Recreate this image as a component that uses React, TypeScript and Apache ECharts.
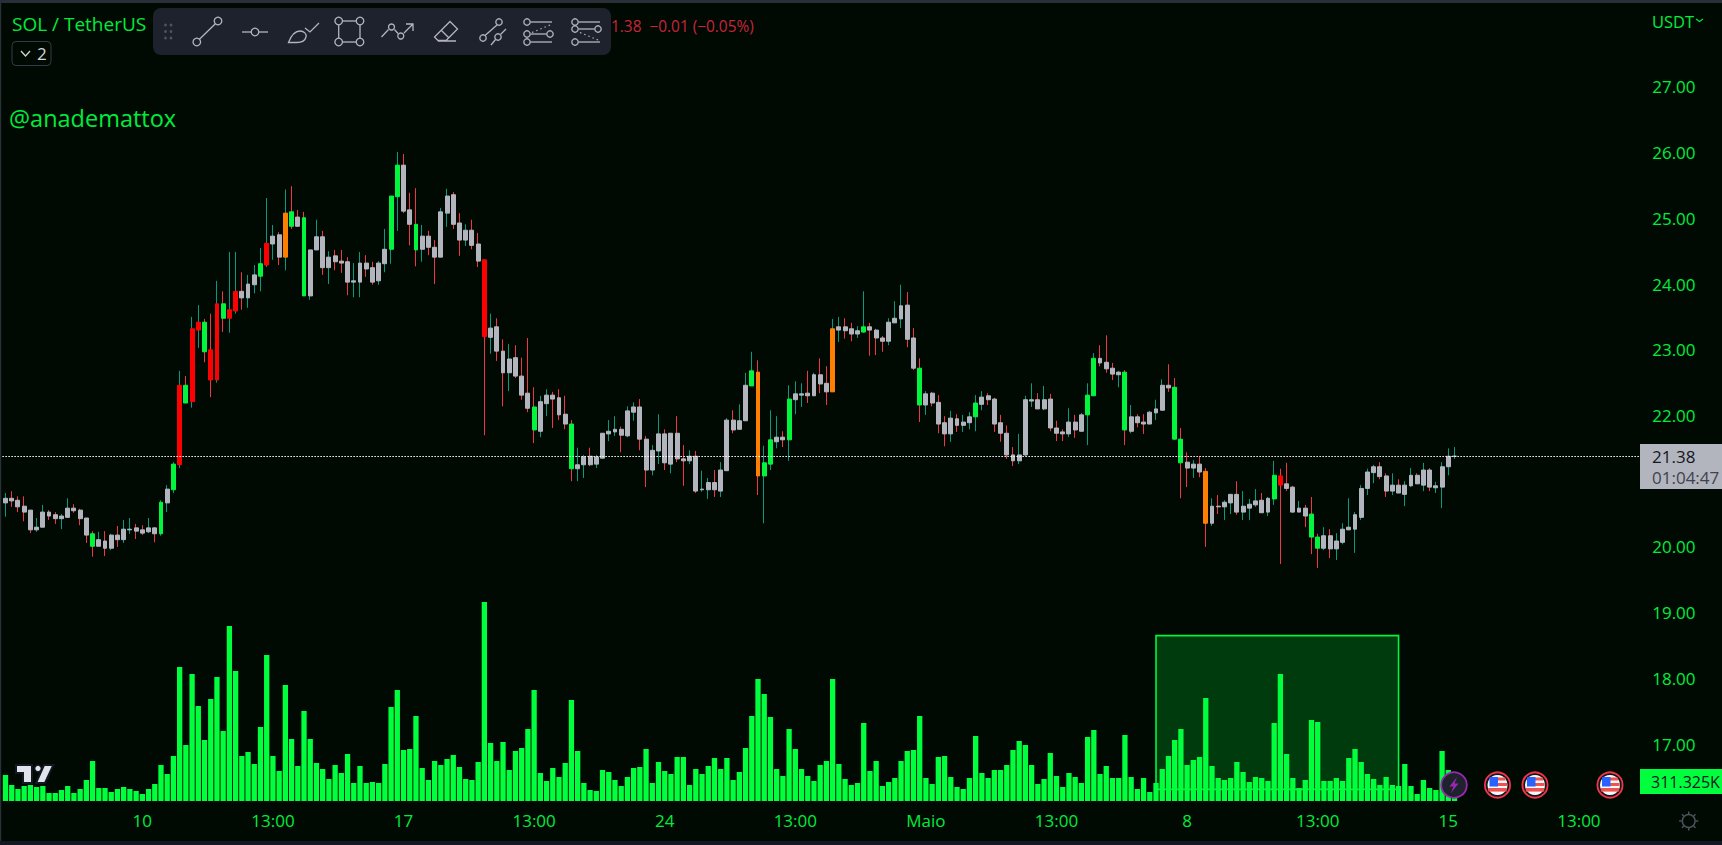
import React, { useEffect, useRef } from "react";
import * as echarts from "echarts";

const opens = [
20.67,20.74,20.71,20.62,20.56,20.26,20.30,20.53,20.49,20.43,
20.45,20.59,20.56,20.44,20.20,20.01,20.09,19.98,20.18,20.11,
20.26,20.29,20.26,20.23,20.29,20.20,20.67,20.87,21.25,22.46,
22.21,23.30,23.42,23.00,22.54,23.70,23.48,23.59,23.89,23.79,
23.99,24.12,24.29,24.61,24.75,24.41,25.10,25.02,25.01,23.82,
24.52,24.72,24.25,24.43,24.35,24.34,24.03,24.03,24.32,24.25,
24.05,24.31,24.53,25.33,25.81,25.13,24.91,24.53,24.73,24.56,
24.41,25.08,25.36,24.93,24.67,24.82,24.61,24.37,23.19,23.35,
22.98,22.65,22.88,22.60,22.34,22.13,21.76,22.18,22.31,22.27,
22.02,21.87,21.19,21.25,21.38,21.26,21.35,21.72,21.75,21.79,
21.69,22.05,22.13,21.64,21.17,21.46,21.72,21.26,21.73,21.34,
21.31,21.38,20.87,20.87,20.98,20.85,21.16,21.93,21.79,21.92,
22.45,22.66,21.08,21.26,21.60,21.67,21.63,22.24,22.31,22.34,
22.30,22.62,22.49,22.36,23.30,23.35,23.32,23.24,23.27,23.35,
23.30,23.18,23.13,23.41,23.47,23.68,23.18,22.72,22.16,22.34,
22.20,21.89,21.72,21.95,21.85,21.89,21.98,22.17,22.30,22.25,
21.89,21.73,21.40,21.31,21.40,22.22,22.24,22.10,22.25,21.81,
21.75,21.72,21.90,21.76,22.01,22.30,22.87,22.81,22.72,22.62,
22.66,21.76,21.98,21.90,21.87,22.04,22.08,22.46,22.43,21.64,
21.29,21.20,21.26,21.15,20.36,20.62,20.61,20.67,20.80,20.53,
20.59,20.64,20.71,20.53,20.73,21.08,20.96,20.91,20.53,20.59,
20.50,20.15,19.98,20.17,19.97,20.07,20.26,20.27,20.45,20.89,
21.13,21.22,21.08,20.85,20.94,20.80,20.93,21.09,20.94,21.17,
20.90,20.91,21.22,21.38,
];

const closes = [
20.74,20.70,20.61,20.53,20.26,20.30,20.53,20.47,20.43,20.47,
20.59,20.55,20.43,20.18,20.01,20.11,19.98,20.18,20.11,20.27,
20.27,20.24,20.21,20.29,20.20,20.68,20.88,21.26,22.46,22.19,
23.32,23.42,22.97,22.54,23.70,23.48,23.61,23.89,23.79,24.00,
24.14,24.31,24.62,24.73,24.41,25.08,24.88,24.88,23.82,24.52,
24.72,24.25,24.41,24.34,24.32,24.03,24.05,24.32,24.23,24.03,
24.32,24.53,25.34,25.81,25.11,24.91,24.52,24.73,24.56,24.41,
25.10,25.34,24.91,24.67,24.82,24.59,24.35,23.20,23.33,22.98,
22.65,22.86,22.60,22.31,22.11,21.78,22.21,22.31,22.25,22.01,
21.87,21.19,21.25,21.37,21.25,21.37,21.73,21.76,21.79,21.70,
22.07,22.13,21.64,21.17,21.47,21.72,21.28,21.73,21.34,21.31,
21.38,20.85,20.88,20.98,20.87,21.17,21.93,21.78,21.92,22.46,
22.68,21.08,21.28,21.63,21.67,21.63,22.25,22.33,22.33,22.30,
22.62,22.48,22.36,23.32,23.35,23.29,23.24,23.29,23.35,23.30,
23.18,23.13,23.42,23.48,23.67,23.16,22.72,22.16,22.33,22.19,
21.87,21.72,21.96,21.85,21.90,21.98,22.19,22.28,22.24,21.87,
21.73,21.40,21.31,21.40,22.24,22.24,22.10,22.24,21.81,21.73,
21.72,21.90,21.78,22.01,22.31,22.87,22.80,22.71,22.63,22.66,
21.78,21.98,21.89,21.87,22.05,22.10,22.46,22.42,21.64,21.28,
21.20,21.26,21.14,20.36,20.62,20.61,20.68,20.80,20.53,20.62,
20.65,20.70,20.52,20.74,21.09,20.94,20.89,20.53,20.59,20.47,
20.15,19.98,20.17,19.97,20.09,20.27,20.30,20.49,20.89,21.14,
21.22,21.07,20.85,20.94,20.82,20.94,21.09,20.96,21.17,20.91,
20.93,21.22,21.38,21.38,
];

const lows = [
20.46,20.61,20.53,20.39,20.21,20.23,20.30,20.41,20.35,20.27,
20.44,20.52,20.33,20.06,19.85,20.01,19.86,19.95,20.00,20.06,
20.20,20.12,20.18,20.21,20.07,20.17,20.53,20.82,21.20,22.19,
22.12,23.03,22.81,22.28,22.50,23.27,23.26,23.55,23.61,23.64,
23.86,23.89,24.26,24.37,24.29,24.21,24.84,24.87,23.82,23.76,
24.52,24.14,24.00,24.21,24.17,23.83,23.80,23.80,24.11,23.99,
23.99,24.18,24.31,24.81,25.08,24.59,24.27,24.34,24.44,24.00,
24.41,24.87,24.84,24.43,24.58,24.53,24.26,21.70,22.94,22.83,
22.14,22.37,22.57,22.24,22.05,21.58,21.67,21.99,21.81,21.93,
21.79,21.00,21.00,21.05,21.23,21.20,21.35,21.61,21.69,21.44,
21.67,21.92,21.47,20.91,21.09,21.26,21.17,21.12,21.29,20.93,
21.26,20.82,20.84,20.73,20.76,20.76,21.16,21.73,21.79,21.92,
22.45,20.79,20.36,21.17,21.50,21.52,21.31,22.02,22.13,22.19,
22.30,22.34,22.16,22.36,23.12,23.17,23.13,23.18,23.26,22.91,
22.92,22.97,23.07,23.41,23.33,23.04,22.69,21.90,22.01,22.14,
21.73,21.53,21.60,21.75,21.75,21.79,21.76,22.08,22.16,21.75,
21.60,21.34,21.23,21.26,21.38,22.13,22.10,22.08,21.76,21.61,
21.61,21.67,21.66,21.76,21.55,22.30,22.75,22.65,22.54,22.43,
21.55,21.73,21.82,21.72,21.87,21.93,22.08,22.36,21.63,20.74,
20.91,21.05,21.06,20.00,20.32,20.50,20.41,20.50,20.49,20.41,
20.41,20.61,20.52,20.47,20.64,19.74,20.85,20.52,20.53,20.30,
19.89,19.68,19.95,19.83,19.80,20.04,20.26,19.91,20.41,20.79,
20.97,21.03,20.76,20.79,20.82,20.62,20.91,20.96,20.85,20.85,
20.82,20.59,21.09,21.34,
];

const highs = [
20.82,20.85,20.77,20.77,20.56,20.44,20.64,20.56,20.53,20.50,
20.74,20.65,20.58,20.44,20.24,20.23,20.24,20.20,20.32,20.41,
20.44,20.35,20.33,20.44,20.30,20.71,20.94,21.29,22.68,22.60,
23.50,23.68,23.47,23.55,24.05,23.89,24.49,24.49,24.18,24.14,
24.29,24.55,25.31,24.90,24.79,25.44,25.49,25.13,25.10,24.52,
24.98,24.81,24.50,24.52,24.52,24.41,24.32,24.49,24.44,24.34,
24.35,24.84,25.34,26.01,25.98,25.39,25.46,24.90,24.81,24.67,
25.16,25.45,25.40,25.08,24.91,24.98,24.78,24.37,23.55,23.48,
23.16,23.09,23.07,22.88,23.18,22.43,22.30,22.40,22.36,22.40,
22.30,21.93,21.51,21.40,21.51,21.40,21.73,21.93,21.99,21.83,
22.14,22.20,22.25,21.69,21.55,22.02,21.79,21.73,21.99,21.55,
21.47,21.46,21.16,21.05,21.17,21.29,21.96,22.08,22.17,22.65,
22.97,22.84,21.54,22.08,21.99,21.76,22.46,22.52,22.49,22.68,
22.65,22.87,22.75,23.47,23.50,23.48,23.41,23.36,23.89,23.41,
23.32,23.21,23.48,23.74,23.99,23.88,23.33,22.87,22.37,22.36,
22.31,21.99,22.07,22.02,22.01,22.05,22.31,22.37,22.34,22.27,
22.01,21.85,21.52,21.72,22.30,22.49,22.34,22.45,22.33,21.92,
21.79,22.11,22.01,22.04,22.49,22.95,23.07,23.22,22.80,22.68,
22.69,22.16,22.02,22.02,22.07,22.24,22.55,22.78,22.57,21.81,
21.44,21.32,21.38,21.20,20.74,20.79,20.71,20.80,21.00,20.85,
20.73,20.88,20.82,20.76,21.31,21.19,21.28,20.93,20.70,20.64,
20.76,20.20,20.30,20.27,20.21,20.36,20.74,20.53,20.94,21.19,
21.25,21.29,21.12,21.12,21.03,21.00,21.20,21.12,21.28,21.20,
20.99,21.29,21.50,21.52,
];

// volume in thousands of SOL
const volumes = [
390,240,180,225,240,210,225,120,120,165,
225,120,180,315,600,195,195,135,180,210,
180,150,105,180,255,540,405,675,2010,840,
1905,1425,915,1530,1860,1050,2625,1950,675,735,
555,1110,2190,675,450,1740,930,525,1350,930,
570,480,330,540,420,705,270,525,270,285,
270,555,1410,1665,765,780,1275,495,315,600,
540,630,690,510,330,315,585,2985,870,600,
885,465,750,795,1080,1665,420,300,495,360,
570,1515,750,270,165,150,465,435,315,225,
360,495,510,780,270,585,450,405,660,660,
240,480,405,525,645,480,645,315,435,795,
1275,1830,1605,1260,480,375,1080,780,480,375,
300,540,600,1830,555,330,240,270,1170,450,
600,225,285,345,600,750,765,1275,345,255,
660,675,360,210,180,345,975,420,345,465,
465,540,765,900,840,540,255,330,720,375,
210,420,360,270,960,1065,405,525,345,345,
990,360,180,345,135,270,480,675,915,1080,
540,615,660,1545,525,345,315,345,585,435,
285,360,345,300,1170,1905,705,345,195,315,
1215,1185,300,300,345,300,645,780,585,405,
330,240,360,240,225,555,225,105,315,195,
165,750,465,311.325,
];

const greenBodies = [14,25,27,29,32,35,41,46,48,62,63,66,85,91,120,122,123,126,138,147,156,174,175,180,188,189,204,210,211];
const redBodies = [28,30,31,33,34,36,37,42,77,205];
const orangeBodies = [45,121,133,193];

const priceTicks = [17,18,19,20,22,23,24,25,26,27];
const timeTickIndexes = [22,43,64,85,106,127,148,169,190,211,232,253];
const timeTickLabels = ["10","13:00","17","13:00","24","13:00","Maio","13:00","8","13:00","15","13:00"];
const lastPrice = 21.38;
const SLOTS = 264;

const BG = "#010a02";
const GREEN = "#00f53c";
const BAR = "#00ff3c";
const TEXT_GREEN = "#00ec3c";
const GRAY = "#b2b5be";
const WICK_UP = "#089981";
const WICK_DOWN = "#f23645";
const ICON = "#b2b5be";
const FONT = '"Open Sans"';

function bodyColor(i: number) {
  if (greenBodies.includes(i)) return "#00f53c";
  if (redBodies.includes(i)) return "#ff0000";
  if (orangeBodies.includes(i)) return "#ff8000";
  return GRAY;
}

echarts.graphic.registerShape("tvBrush", echarts.graphic.extendPath("M288.5 42.5 C291 36 294 31 300 31 C304 31 307 34 306 37 C305 41 301 42.5 297 42.5 Z M305 28 L310 32 L319 23", {}));
echarts.graphic.registerShape("tvEraser", echarts.graphic.extendPath("M450 21.5 L457.5 29 L446 40.5 L438 40.5 L434.5 37 Z M441 30 L449 38 M438 41 L456 41", {}));
echarts.graphic.registerShape("tvArrow", echarts.graphic.extendPath("M381.5 37 L388.5 29.5 M394.5 29.5 L398 33.5 M404 33 L413 24 M406 24 L413 24 L413 31", {}));

function iconCircle(x: number, y: number, r = 3.8, fill = "none", stroke = ICON) {
  return { type: "circle", shape: { cx: x, cy: y, r }, style: { fill, stroke, lineWidth: 1.3 } };
}
function iconLine(x1: number, y1: number, x2: number, y2: number, stroke = ICON, lineWidth = 1.3, lineDash?: number[]) {
  return { type: "line", shape: { x1, y1, x2, y2 }, style: { stroke, lineWidth, lineDash } };
}
function label(text: string, x: number, y: number, fill: string, size: number, align = "left") {
  return { type: "text", x, y, style: { text, fill, font: `${size}px ${FONT}`, textAlign: align, textVerticalAlign: "middle" } };
}
function flag(cx: number, cy: number) {
  return [
    { type: "circle", shape: { cx, cy, r: 12.6 }, style: { fill: "#131722", stroke: "#f23645", lineWidth: 1.8 } },
    { type: "circle", shape: { cx, cy, r: 10 }, style: { fill: "#f7f8fa" } },
    { type: "rect", shape: { x: cx - 6, y: cy - 7.5, width: 14, height: 3 }, style: { fill: "#ef5350" } },
    { type: "rect", shape: { x: cx - 0, y: cy - 2, width: 9.6, height: 3 }, style: { fill: "#ef5350" } },
    { type: "rect", shape: { x: cx - 9.2, y: cy + 3, width: 18.4, height: 3.6 }, style: { fill: "#ef5350" } },
    { type: "rect", shape: { x: cx - 8, y: cy - 8, width: 8.5, height: 9.5 }, style: { fill: "#2962ff" } },
  ];
}

const gearRays = [0, 45, 90, 135, 180, 225, 270, 315].map((deg) => {
  const a = (deg * Math.PI) / 180;
  return iconLine(1688.7 + 7 * Math.cos(a), 821 + 7 * Math.sin(a), 1688.7 + 9.6 * Math.cos(a), 821 + 9.6 * Math.sin(a), "#50535e", 1.4);
});

const chrome: any[] = [
  { type: "rect", shape: { x: 0, y: 0, width: 1722, height: 3 }, style: { fill: "#2a2e39" } },
  { type: "rect", shape: { x: 0, y: 0, width: 1.2, height: 845 }, style: { fill: "#2a2e39" } },
  { type: "rect", shape: { x: 0, y: 841, width: 1722, height: 4 }, style: { fill: "#141823" } },
  label("SOL / TetherUS", 12, 24, TEXT_GREEN, 19),
  { type: "rect", shape: { x: 12, y: 41.5, width: 39, height: 24, r: 4 }, style: { fill: BG, stroke: "#363a45", lineWidth: 1 } },
  { type: "polyline", shape: { points: [[21, 51], [25.5, 56], [30, 51]] }, style: { fill: "none", stroke: "#d1d4dc", lineWidth: 1.3 } },
  label("2", 37, 53, "#d1d4dc", 17),
  label("@anademattox", 9, 118, TEXT_GREEN, 23.5),
  { type: "rect", shape: { x: 153, y: 8, width: 458, height: 47, r: 8 }, style: { fill: "#1e222d" } },
  ...[25, 31.5, 38].flatMap((y) => [165.5, 171].map((x) => ({ type: "circle", shape: { cx: x, cy: y, r: 1.4 }, style: { fill: "#50535e" } }))),
  iconCircle(196.8, 42), iconCircle(218, 21), iconLine(199.4, 39.2, 215.4, 23.8),
  iconLine(242, 32, 251, 32), iconLine(259, 32, 268, 32), iconCircle(255, 32),
  { type: "tvBrush", style: { fill: "none", stroke: ICON, lineWidth: 1.3 } },
  iconCircle(338.7, 21), iconCircle(360, 21), iconCircle(338.7, 42), iconCircle(360, 42),
  iconLine(342.5, 21, 356.2, 21), iconLine(342.5, 42, 356.2, 42), iconLine(338.7, 24.8, 338.7, 38.2), iconLine(360, 24.8, 360, 38.2),
  { type: "tvArrow", style: { fill: "none", stroke: ICON, lineWidth: 1.3 } },
  iconCircle(391.5, 27, 3), iconCircle(400.8, 36, 3),
  { type: "tvEraser", style: { fill: "none", stroke: ICON, lineWidth: 1.3 } },
  iconCircle(499, 22, 3.2), iconCircle(483, 38, 3.2), iconLine(497, 25, 485, 35.5),
  iconCircle(498, 37, 3.2), iconLine(506, 29, 500.5, 34.5), iconLine(495.5, 39.5, 491, 45),
  iconCircle(527, 22, 3.2), iconLine(530.5, 22, 552, 22),
  iconCircle(527, 34, 3.2), iconLine(530.5, 34, 546.5, 34), iconCircle(550, 34, 3.2),
  iconCircle(527, 42, 3.2), iconLine(530.5, 42, 552, 42),
  iconLine(532, 32.5, 550, 25, ICON, 1.2, [1.5, 3]),
  iconCircle(575, 22, 3.2), iconLine(578.5, 22, 600, 22),
  iconCircle(598, 29, 3.2), iconLine(578.5, 29, 594.5, 29),
  iconCircle(575, 42, 3.2), iconLine(578.5, 42, 600, 42), iconCircle(575, 29, 3.2),
  iconLine(580, 32.5, 598, 40, ICON, 1.2, [1.5, 3]),
  label("1.38  \u22120.01 (\u22120.05%)", 611, 26, "#c8243a", 15.4),
  label("USDT", 1652, 21, TEXT_GREEN, 16.5),
  { type: "polyline", shape: { points: [[1696, 19], [1699.5, 21.5], [1703, 19]] }, style: { fill: "none", stroke: TEXT_GREEN, lineWidth: 1.1 } },
  { type: "polygon", shape: { points: [[16, 765], [32, 765], [32, 783], [23, 783], [23, 773], [16, 773]] }, style: { fill: "#e0e3eb", stroke: "#131722", lineWidth: 2 } },
  { type: "circle", shape: { cx: 38, cy: 768.5, r: 3.4 }, style: { fill: "#e0e3eb", stroke: "#131722", lineWidth: 1.5 } },
  { type: "polygon", shape: { points: [[44, 765], [53.4, 765], [45, 783], [36, 783]] }, style: { fill: "#e0e3eb", stroke: "#131722", lineWidth: 2 } },
  { type: "circle", shape: { cx: 1454, cy: 785, r: 12.8 }, style: { fill: "#1e222d", stroke: "#9c27b0", lineWidth: 1.8 } },
  { type: "polygon", shape: { points: [[1457, 777], [1449.5, 786.5], [1453.5, 786.5], [1451, 793], [1458.5, 783.5], [1454.5, 783.5]] }, style: { fill: "#9c27b0" } },
  ...flag(1497.5, 785), ...flag(1535, 785), ...flag(1610, 785),
  { type: "rect", shape: { x: 1640, y: 444, width: 82, height: 45 }, style: { fill: GRAY } },
  label("21.38", 1652, 456.5, "#131722", 17),
  label("01:04:47", 1652, 477, "#3f434e", 17),
  { type: "rect", shape: { x: 1640, y: 769, width: 82, height: 25 }, style: { fill: BAR } },
  label("311.325K", 1651, 781.5, "#131722", 16),
  { type: "circle", shape: { cx: 1688.7, cy: 821, r: 6.4 }, style: { fill: "none", stroke: "#50535e", lineWidth: 1.4 } },
  ...gearRays,
];

export default function App() {
  const ref = useRef<HTMLDivElement>(null);
  useEffect(() => {
    document.body.style.margin = "0";
    document.body.style.background = BG;
    const chart = echarts.init(ref.current!, undefined, { renderer: "svg" });
    const categories = Array.from({ length: SLOTS }, (_, i) => String(i));
    const wickData = opens.map((o, i) => ({
      value: [o, closes[i], lows[i], highs[i]],
    }));
    const bodyData = opens.map((o, i) => {
      const c = bodyColor(i);
      return {
        value: [o, closes[i], Math.min(o, closes[i]), Math.max(o, closes[i])],
        itemStyle: { color: c, color0: c, borderColor: c, borderColor0: c },
      };
    });
    chart.setOption({
      animation: false,
      backgroundColor: BG,
      grid: { left: 2.4, top: 3, width: 1641.8, height: 798, containLabel: false },
      xAxis: {
        type: "category",
        data: categories,
        boundaryGap: true,
        axisLine: { show: false },
        axisTick: { show: false },
        splitLine: { show: false },
        axisLabel: {
          color: TEXT_GREEN,
          fontFamily: FONT,
          fontSize: 17,
          margin: 11,
          hideOverlap: false,
          interval: (i: number) => timeTickIndexes.includes(i),
          formatter: (_v: string, i: number) => timeTickLabels[timeTickIndexes.indexOf(i)] ?? "",
        },
      },
      yAxis: [
        {
          type: "value",
          position: "right",
          min: 16.133,
          max: 28.278,
          scale: true,
          splitLine: { show: false },
          axisLine: { show: false },
          axisTick: { show: false },
          axisLabel: {
            color: TEXT_GREEN,
            fontFamily: FONT,
            fontSize: 17,
            margin: 8,
            customValues: priceTicks,
            formatter: (v: number) => v.toFixed(2),
          },
        },
        { type: "value", show: false, min: 0, max: 11970, splitLine: { show: false } },
      ],
      series: [
        {
          type: "bar",
          name: "Volume",
          yAxisIndex: 1,
          data: volumes,
          barWidth: 5.3,
          itemStyle: { color: BAR },
          z: 2,
        },
        {
          type: "candlestick",
          name: "Wicks",
          data: wickData,
          barWidth: 1,
          itemStyle: { color: WICK_UP, color0: WICK_DOWN, borderColor: WICK_UP, borderColor0: WICK_DOWN, borderWidth: 1 },
          markArea: {
            silent: true,
            itemStyle: { color: "rgba(0,255,60,0.2)", borderColor: GREEN, borderWidth: 1.6 },
            data: [[{ xAxis: "185", yAxis: 18.65 }, { xAxis: "224", yAxis: 16.31 }]],
            z: 1,
          },
          z: 3,
        },
        {
          type: "candlestick",
          name: "Bodies",
          data: bodyData,
          barWidth: 4.4,
          itemStyle: { borderWidth: 1 },
          markLine: {
            silent: true,
            symbol: "none",
            label: { show: false },
            lineStyle: { color: "#ffffff", type: [1.5, 1.5], width: 1 },
            data: [{ yAxis: lastPrice }],
          },
          z: 4,
        },
      ],
      graphic: { elements: chrome.map((e) => ({ ...e, z: 100 })) },
    });
    return () => chart.dispose();
  }, []);
  return <div ref={ref} style={{ width: 1722, height: 845, overflow: "hidden" }} />;
}
